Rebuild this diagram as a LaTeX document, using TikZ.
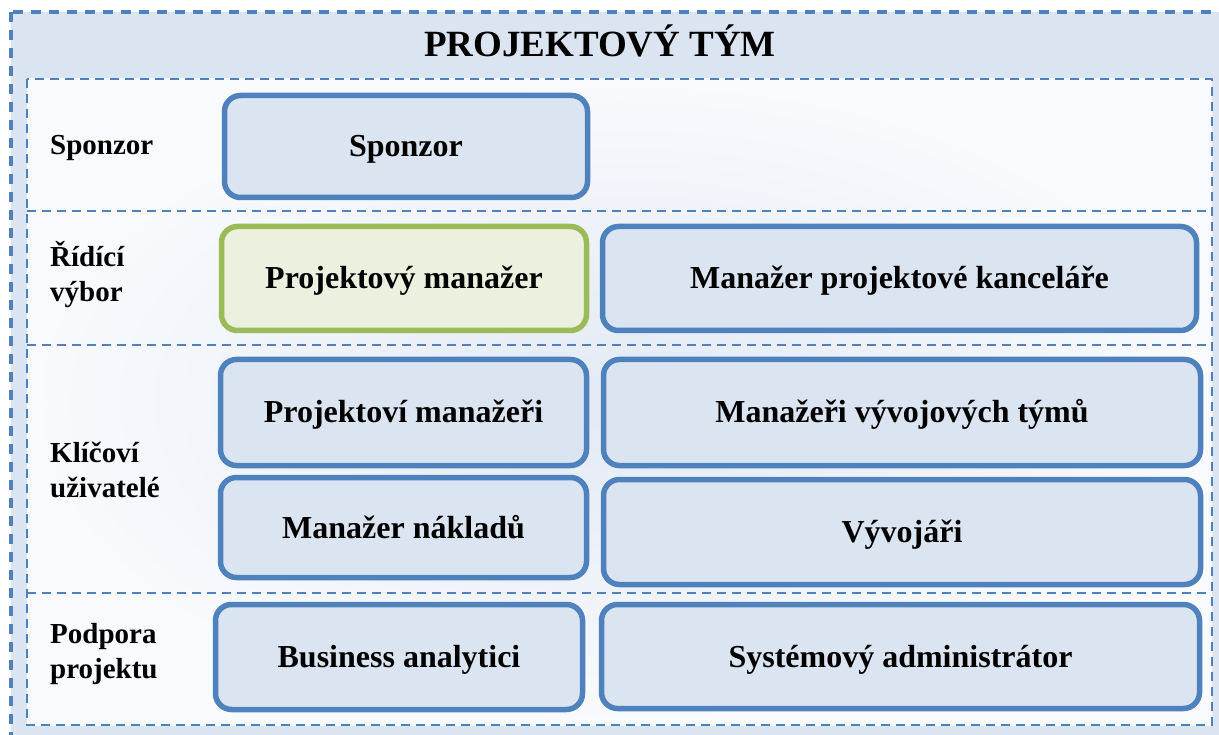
\documentclass[tikz,border=0pt]{standalone}
\usepackage{fontspec}
\setmainfont{Liberation Serif}
\definecolor{frameblue}{HTML}{4F81BD}
\definecolor{panel}{HTML}{DBE5F1}
\definecolor{boxfill}{HTML}{DBE5F1}
\definecolor{pmgreen}{HTML}{9BBB59}
\definecolor{pmfill}{HTML}{EBF1DE}
\definecolor{rowmid}{HTML}{E3EAF4}
\definecolor{rowedge}{HTML}{F8FAFD}
\pgfdeclareradialshading{rowglow}{\pgfpoint{0bp}{0bp}}{color(0bp)=(rowmid); color(25bp)=(rowedge); color(50bp)=(rowedge)}

\begin{document}
\begin{tikzpicture}[x=1pt,y=-1pt,
  role/.style={draw=frameblue, fill=boxfill, line width=5.5pt, rounded corners=16pt,
    inner sep=0pt, text height=21pt, text depth=0pt,
    font=\fontsize{32}{38}\selectfont\bfseries},
  lead/.style={role, draw=pmgreen, fill=pmfill},
  rowlabel/.style={anchor=base west, align=left, inner sep=0pt,
    font=\fontsize{29}{35}\selectfont\bfseries},
  band/.style={draw=frameblue, line width=2.8pt, dash pattern=on 9pt off 6pt}]
\useasboundingbox (0,0) rectangle (1219,735);
\clip (0,0) rectangle (1219,735);
\fill[white] (0,0) rectangle (1219,735);

% outer team frame
\draw[fill=panel, draw=frameblue, line width=3.2pt, dash pattern=on 10pt off 8pt]
  (11,12) rectangle (1240,760);

% row bands
\shade[shading=rowglow] (27,79) rectangle (1212,725);
\draw[band] (27,79) rectangle (1212,725);
\draw[band] (27,211) -- (1212,211);
\draw[band] (27,345) -- (1212,345);
\draw[band] (27,593) -- (1212,593);

% title
\node[inner sep=0pt, text height=24.5pt, text depth=0pt,
  font=\fontsize{37}{44}\selectfont\bfseries] (title) at (600,44) {PROJEKTOVÝ TÝM};

% row labels (anchored on the baseline of their last line)
\node[rowlabel] (lsponzor) at (50,155) {Sponzor};
\node[rowlabel] (lridici) at (50,302) {Řídící\\výbor};
\node[rowlabel] (lklicovi) at (50,497) {Klíčoví\\uživatelé};
\node[rowlabel] (lpodpora) at (50,678) {Podpora\\projektu};

% role boxes
\node[role, minimum width=363pt, minimum height=102pt] (sponzor) at (406,146.5) {Sponzor};
\node[lead, minimum width=365pt, minimum height=104pt] (pm) at (404,278.5) {Projektový manažer};
\node[role, minimum width=594pt, minimum height=104pt] (mpk) at (899.5,278.5) {Manažer projektové kanceláře};
\node[role, minimum width=366pt, minimum height=106pt] (pms) at (403.5,412.5) {Projektoví manažeři};
\node[role, minimum width=597pt, minimum height=106pt] (mvt) at (902,412.5) {Manažeři vývojových týmů};
\node[role, minimum width=366pt, minimum height=100pt] (mn) at (403.5,527.5) {Manažer nákladů};
\node[role, minimum width=597pt, minimum height=105pt] (dev) at (902,532) {Vývojáři};
\node[role, minimum width=367pt, minimum height=105pt] (ba) at (399,657) {Business analytici};
\node[role, minimum width=598pt, minimum height=104pt] (sa) at (900.5,656.5) {Systémový administrátor};
\end{tikzpicture}
\end{document}
